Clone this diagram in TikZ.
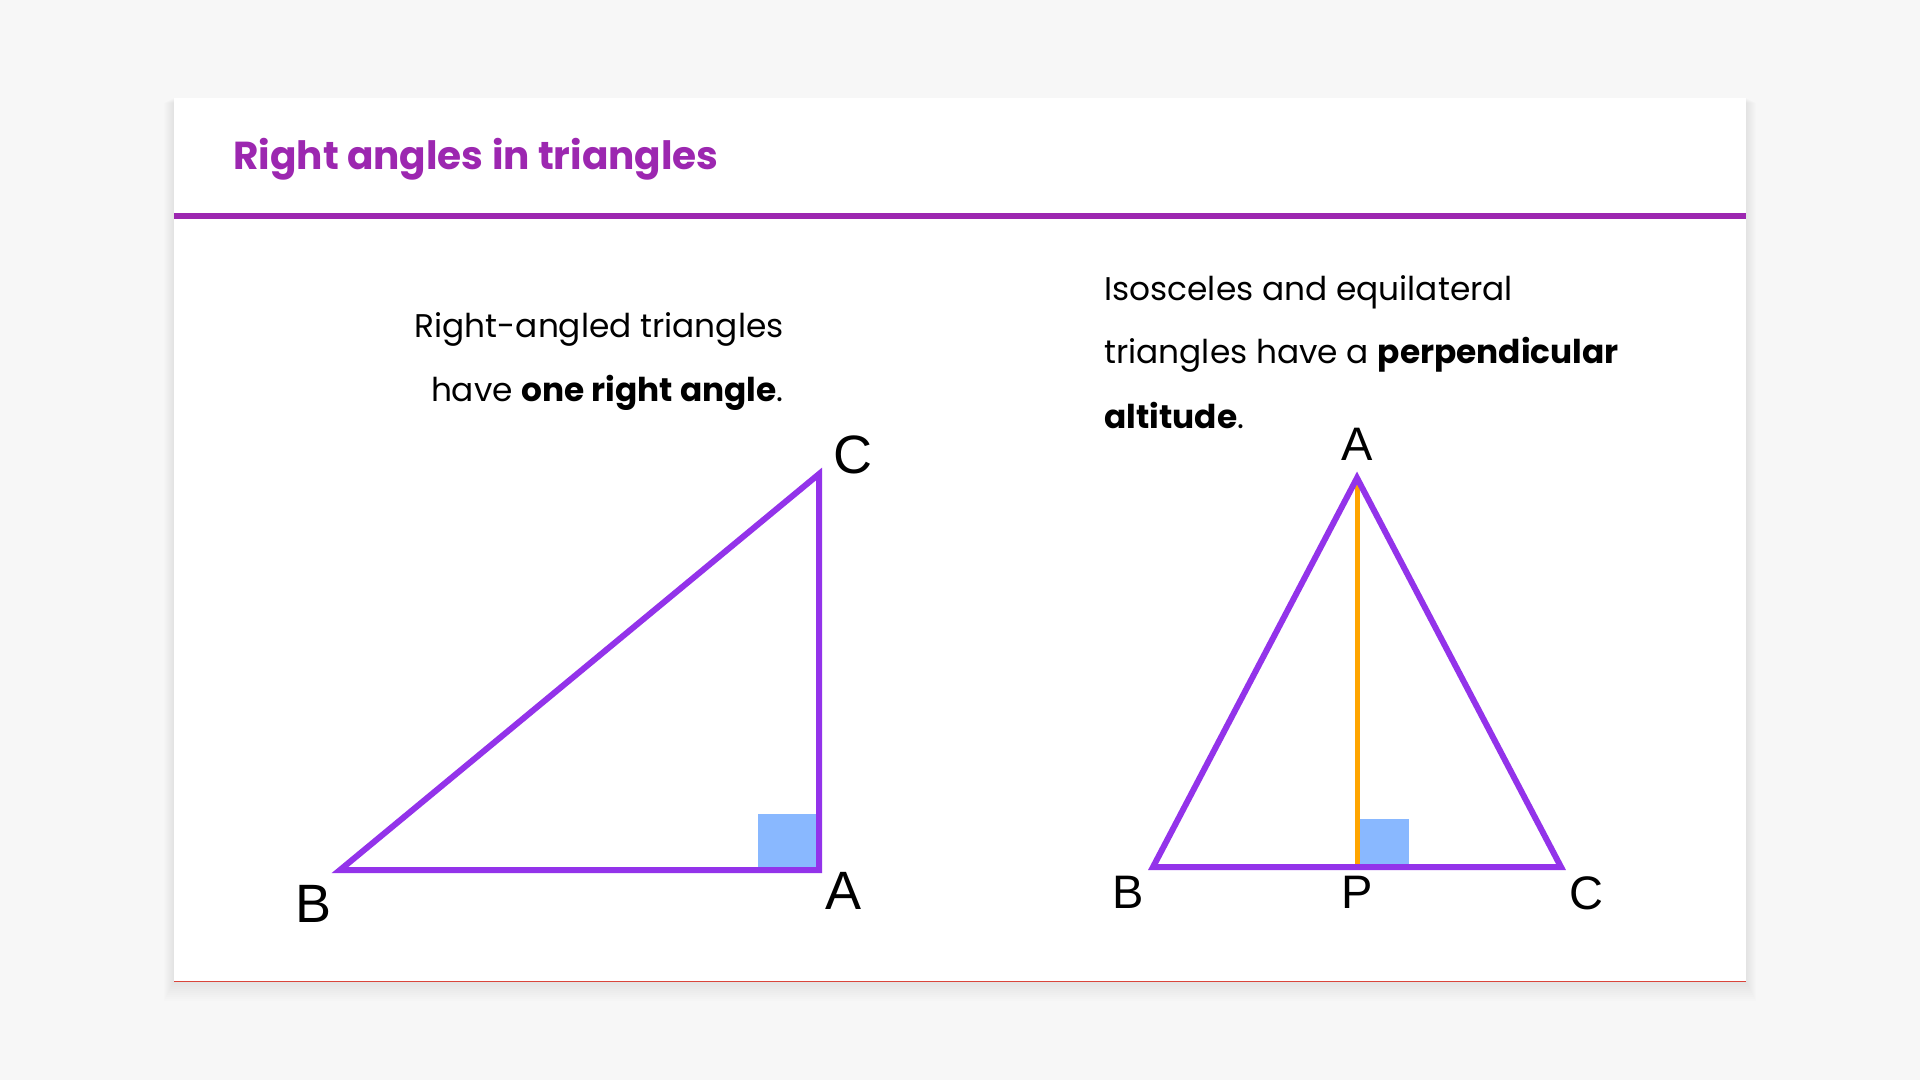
\documentclass[tikz,border=0pt]{standalone}
\usepackage{fontspec}
\setmainfont{Poppins}
\newfontfamily\vertexfont{Liberation Sans}
\usepackage{xcolor}
\usepackage{tikz}
\usetikzlibrary{positioning}

\definecolor{pagegrey}{HTML}{F7F7F7}
\definecolor{headpurple}{HTML}{9C27B0}
\definecolor{sideviolet}{HTML}{9333EA}
\definecolor{markblue}{HTML}{89B8FF}
\definecolor{heightorange}{HTML}{FFA500}
\definecolor{edgered}{HTML}{D9453B}

\begin{document}
\begin{tikzpicture}[x = 0.5pt, y = -0.5pt, node distance = 4pt]
            \tikzstyle{sideline} = [draw=sideviolet, line width=3pt, line join=miter];
            \tikzstyle{altline} = [draw=heightorange, line width=2.5pt];
            \tikzstyle{anglemark} = [fill=markblue];
            \tikzstyle{bigvertex} = [inner sep=0pt, font=\vertexfont\fontsize{27pt}{27pt}\selectfont];
            \tikzstyle{vertex} = [inner sep=0pt, font=\vertexfont\fontsize{23.5pt}{23.5pt}\selectfont];
            \tikzstyle{body} = [inner sep=0pt, font=\fontsize{16.4pt}{19pt}\selectfont];

            \fill [pagegrey] (0, 0) rectangle (1920, 1080);
            \useasboundingbox (0, 0) rectangle (1920, 1080);

            % card with a soft shadow
            \foreach \s in {2, 4, ..., 20}
                \fill [black, opacity=0.006] (174-\s/2, 98+\s/4) rectangle (1746+\s/2, 981+\s);
            \fill [white] (174, 98) rectangle (1746, 981);
            \draw [edgered, line width=0.5pt] (174, 981) -- (1746, 981);
            \draw [headpurple, line width=3pt] (174, 216) -- (1746, 216);
            \node [anchor=base west, inner sep=0pt, headpurple, font=\bfseries\fontsize{19.5pt}{22pt}\selectfont] (title) at (233, 170) {Right angles in triangles};

            % left text
            \node [body, anchor=base east] (L1) at (784, 338) {Right-angled triangles};
            \node [body, anchor=base east] (L2) at (784, 401) {have \textbf{one right angle}.};

            % right text
            \node [body, anchor=base west] (R1) at (1104, 301) {Isosceles and equilateral};
            \node [body, anchor=base west] (R2) at (1104, 364) {triangles have a \textbf{perpendicular}};
            \node [body, anchor=base west] (R3) at (1104, 428) {\textbf{altitude}.};

            % right-angled triangle
            \coordinate (lA) at (819, 870);
            \coordinate (lB) at (340, 870);
            \coordinate (lC) at (819, 474);
            \fill [anglemark] (758, 814) rectangle (lA);
            \draw [sideline] (lB) -- (lA) -- (lC) -- cycle;
            \node [bigvertex, above right = 0pt and 7pt of lC] (labLC) {C};
            \node [bigvertex, below left = 7.5pt and 4pt of lB] (labLB) {B};
            \node [bigvertex, below right = 1pt and 3pt of lA] (labLA) {A};

            % isosceles triangle
            \coordinate (rA) at (1357, 478);
            \coordinate (rB) at (1153, 867);
            \coordinate (rC) at (1561, 867);
            \coordinate (rP) at (1357, 867);
            \fill [anglemark] (1359, 819) rectangle (1409, 867);
            \draw [altline] (rA) -- (rP);
            \draw [sideline] (rB) -- (rC) -- (rA) -- cycle;
            \node [vertex, above = 8.5pt of rA] (labRA) {A};
            \node [vertex, below = 4.5pt of rB, xshift=-12.5pt] (labRB) {B};
            \node [vertex, below = 4.5pt of rP] (labRP) {P};
            \node [vertex, below = 4.5pt of rC, xshift=12.5pt] (labRC) {C};
        \end{tikzpicture}
\end{document}
